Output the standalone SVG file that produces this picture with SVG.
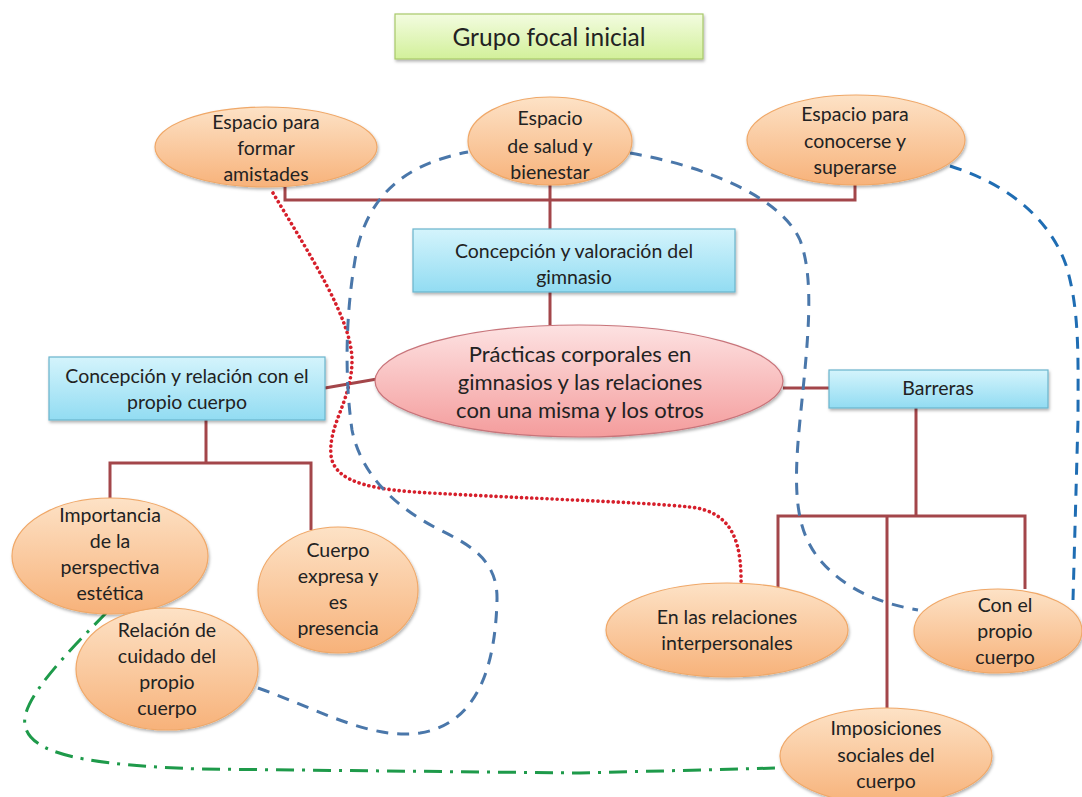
<svg xmlns="http://www.w3.org/2000/svg" width="1082" height="797" viewBox="0 0 1082 797">
<style>
text{font-family:Lato,"Open Sans","Liberation Sans",sans-serif;fill:#222;text-anchor:middle}
.t19{font-size:19.5px}
.t18{font-size:19.5px}
.t21{font-size:22px}
.tree{fill:none;stroke:#a3464a;stroke-width:3}
.orange{fill:url(#gOr);stroke:#f0a868;stroke-width:1.2;filter:url(#sh)}
.blue{fill:url(#gBl);stroke:#6ab4cc;stroke-width:1.2;filter:url(#sh)}
.red{fill:none;stroke:#d61f2b;stroke-width:3.6;stroke-dasharray:0.1 5;stroke-linecap:round}
.dash{fill:none;stroke:#4a77aa;stroke-width:3;stroke-dasharray:12 9}
.dash2{fill:none;stroke:#1f6db3;stroke-width:3;stroke-dasharray:12 9}
.green{fill:none;stroke:#1e9a4a;stroke-width:3;stroke-dasharray:18 8 3 8}
</style>
<defs>
<linearGradient id="gOr" x1="0" y1="0" x2="0" y2="1"><stop offset="0" stop-color="#fde2c6"/><stop offset="1" stop-color="#f7b27a"/></linearGradient>
<linearGradient id="gBl" x1="0" y1="0" x2="0" y2="1"><stop offset="0" stop-color="#d4f4fc"/><stop offset="1" stop-color="#92dcf2"/></linearGradient>
<linearGradient id="gPk" x1="0" y1="0" x2="0" y2="1"><stop offset="0" stop-color="#fde2e2"/><stop offset="1" stop-color="#f49c9c"/></linearGradient>
<linearGradient id="gGr" x1="0" y1="0" x2="0" y2="1"><stop offset="0" stop-color="#f3fce0"/><stop offset="1" stop-color="#d2f09a"/></linearGradient>
<filter id="sh" x="-10%" y="-10%" width="125%" height="130%"><feDropShadow dx="1" dy="2" stdDeviation="1.5" flood-color="#000" flood-opacity="0.3"/></filter>
</defs>
<rect width="1082" height="797" fill="#fff"/>

<g id="connectors">
<path class="tree" d="M285,187 V200 H855 V185 M550,185 V229 M550,292 V325 M325,388 L377,379 M783,388 H829 M916,407 V516 M778,589 V516 H1025 V589 M887,516 V708 M206,420 V463 M110,500 V463 H311 V530"/>
<path class="red" d="M273,193 C310,255 352,320 352,360 C352,400 328,425 331,455 C334,485 380,490 430,493 C560,500 640,502 690,507 C735,512 742,545 741,590"/>
<path class="dash" d="M258,688 C320,710 370,740 420,733 C470,725 495,680 497,600 C498,560 470,545 440,530 C390,505 360,470 352,430 C345,380 345,320 355,260 C365,200 400,165 468,152"/>
<path class="dash" d="M630,153 C700,165 780,195 800,240 C815,280 808,340 800,420 C793,490 795,530 820,560 C850,595 890,605 918,610"/>
<path class="dash2" d="M950,166 C1010,185 1050,220 1066,265 C1080,310 1078,360 1078,420 L1073,600"/>
<path class="green" d="M107,612 C70,650 20,700 25,725 C30,755 90,765 200,769 L580,773 L778,768"/>
</g>

<g id="title">
<rect x="395" y="14" width="308" height="45" fill="url(#gGr)" stroke="#a8c86a" stroke-width="1.2" filter="url(#sh)"/>
<text x="549" y="46" style="font-size:24.5px">Grupo focal inicial</text>
</g>

<g id="amistades">
<ellipse class="orange" cx="266" cy="147" rx="111" ry="40"/>
<text class="t19"><tspan x="266" y="129">Espacio para</tspan><tspan x="266" y="155">formar</tspan><tspan x="266" y="181">amistades</tspan></text>
</g>
<g id="salud">
<ellipse class="orange" cx="550" cy="141" rx="82" ry="44"/>
<text class="t19"><tspan x="550" y="125">Espacio</tspan><tspan x="550" y="153">de salud y</tspan><tspan x="550" y="179">bienestar</tspan></text>
</g>
<g id="conocerse">
<ellipse class="orange" cx="856" cy="140" rx="109" ry="45"/>
<text class="t19"><tspan x="855" y="121">Espacio para</tspan><tspan x="855" y="148">conocerse y</tspan><tspan x="855" y="174">superarse</tspan></text>
</g>
<g id="gimnasio">
<rect class="blue" x="413" y="229" width="322" height="63"/>
<text class="t18"><tspan x="574" y="258">Concepción y valoración del</tspan><tspan x="574" y="284">gimnasio</tspan></text>
</g>
<g id="central">
<ellipse cx="579" cy="381" rx="204" ry="56" fill="url(#gPk)" stroke="#c8747a" stroke-width="1.2" filter="url(#sh)"/>
<text class="t21"><tspan x="580" y="362">Prácticas corporales en</tspan><tspan x="580" y="390">gimnasios y las relaciones</tspan><tspan x="580" y="418">con una misma y los otros</tspan></text>
</g>
<g id="cuerpo">
<rect class="blue" x="49" y="357" width="276" height="63"/>
<text class="t18"><tspan x="187" y="383">Concepción y relación con el</tspan><tspan x="187" y="409">propio cuerpo</tspan></text>
</g>
<g id="barreras">
<rect class="blue" x="829" y="370" width="219" height="38"/>
<text class="t18" x="938" y="395">Barreras</text>
</g>
<g id="importancia">
<ellipse class="orange" cx="110" cy="556" rx="98" ry="58"/>
<text class="t19"><tspan x="110" y="522">Importancia</tspan><tspan x="110" y="548">de la</tspan><tspan x="110" y="574">perspectiva</tspan><tspan x="110" y="600">estética</tspan></text>
</g>
<g id="expresa">
<ellipse class="orange" cx="338" cy="590" rx="80" ry="63"/>
<text class="t19"><tspan x="338" y="557">Cuerpo</tspan><tspan x="338" y="583">expresa y</tspan><tspan x="338" y="609">es</tspan><tspan x="338" y="635">presencia</tspan></text>
</g>
<g id="cuidado">
<ellipse class="orange" cx="167" cy="669" rx="91" ry="61"/>
<text class="t19"><tspan x="167" y="637">Relación de</tspan><tspan x="167" y="663">cuidado del</tspan><tspan x="167" y="689">propio</tspan><tspan x="167" y="715">cuerpo</tspan></text>
</g>
<g id="interpersonales">
<ellipse class="orange" cx="727" cy="630" rx="121" ry="47"/>
<text class="t19"><tspan x="727" y="624">En las relaciones</tspan><tspan x="727" y="650">interpersonales</tspan></text>
</g>
<g id="propio">
<ellipse class="orange" cx="998" cy="631" rx="84" ry="42"/>
<text class="t19"><tspan x="1005" y="612">Con el</tspan><tspan x="1005" y="638">propio</tspan><tspan x="1005" y="664">cuerpo</tspan></text>
</g>
<g id="imposiciones">
<ellipse class="orange" cx="886" cy="756" rx="106" ry="48"/>
<text class="t19"><tspan x="886" y="735">Imposiciones</tspan><tspan x="886" y="762">sociales del</tspan><tspan x="886" y="788">cuerpo</tspan></text>
</g>
</svg>
